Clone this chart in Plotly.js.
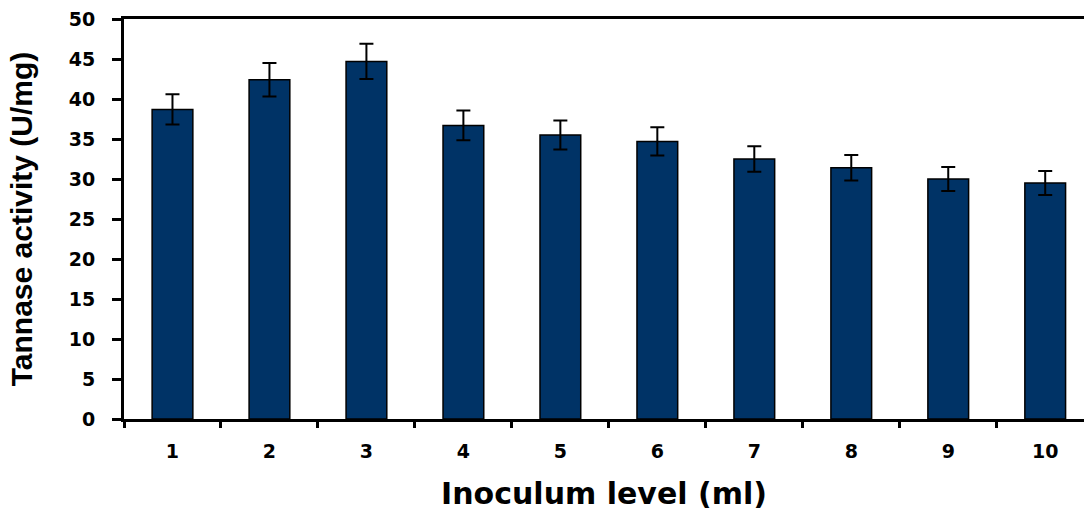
<!DOCTYPE html>
<html><head><meta charset="utf-8">
<script src="https://cdn.plot.ly/plotly-3.0.1.min.js"></script>
<style>html,body{margin:0;padding:0;background:#fff}#chart{width:1084px;height:511px}</style>
</head><body><div id="chart"></div>
<script>
var categories = ["1","2","3","4","5","6","7","8","9","10"];
var activity = [38.7, 42.4, 44.7, 36.7, 35.5, 34.7, 32.5, 31.4, 30.0, 29.5];
var errors = [1.9, 2.1, 2.2, 1.85, 1.8, 1.77, 1.6, 1.6, 1.5, 1.5];
var yTicks = [0,5,10,15,20,25,30,35,40,45,50];

var trace = {
  type: 'bar', x: categories, y: activity, width: 0.42,
  marker: {color: '#003366', line: {color: '#000', width: 1.5}},
  error_y: {type: 'data', array: errors, visible: true, color: '#000', thickness: 2, width: 7}
};
var wide = {family: 'DejaVu Sans, Verdana, sans-serif', color: '#000', weight: 'bold'};
var narrow = {family: 'Liberation Sans Narrow, Arial Narrow, Liberation Sans, sans-serif', color: '#000', weight: 'bold'};
var layout = {
  width: 1084, height: 511,
  margin: {l: 124, r: 0, t: 19, b: 92},
  paper_bgcolor: '#fff', plot_bgcolor: '#fff',
  showlegend: false,
  xaxis: {
    type: 'category', range: [-0.5, 9.4], tickson: 'boundaries',
    showline: true, linecolor: '#000', linewidth: 3, mirror: true,
    ticks: 'outside', ticklen: 6, tickwidth: 3, tickcolor: '#000',
    showgrid: false, zeroline: false,
    tickfont: Object.assign({size: 19}, wide), ticklabelstandoff: 13,
    title: {text: 'Inoculum level (ml)', font: Object.assign({size: 30}, wide), standoff: 28}
  },
  yaxis: {
    range: [0, 50], tickvals: yTicks, ticktext: yTicks.map(String),
    showline: true, linecolor: '#000', linewidth: 3,
    ticks: 'outside', ticklen: 9, tickwidth: 3, tickcolor: '#000',
    showgrid: false, zeroline: false,
    tickfont: Object.assign({size: 19}, wide), ticklabelstandoff: 13,
    title: {text: 'Tannase activity (U/mg)', font: Object.assign({size: 30}, narrow), standoff: 28}
  }
};
Plotly.newPlot('chart', [trace], layout, {displayModeBar: false, staticPlot: true});
</script></body></html>
